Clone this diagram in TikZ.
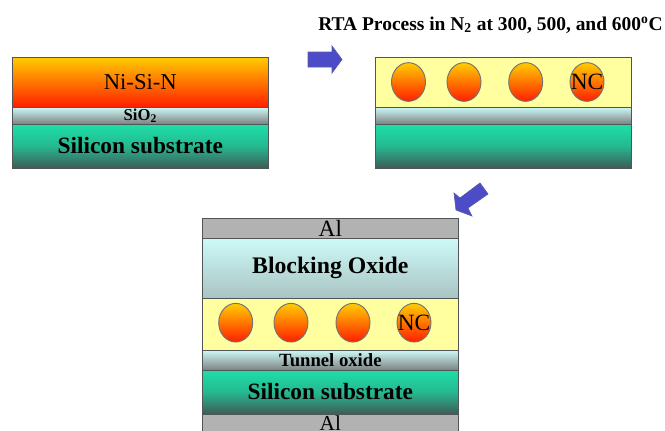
\documentclass[tikz,border=0pt]{standalone}
\usepackage{fontspec}
\setmainfont{Liberation Serif}
\usetikzlibrary{arrows.meta, positioning, shapes.geometric}
\definecolor{edgegray}{RGB}{80,85,85}
\definecolor{nigold}{RGB}{255,204,0}
\definecolor{nired}{RGB}{255,30,0}
\definecolor{oxtop}{RGB}{205,250,248}
\definecolor{oxlow}{RGB}{125,130,130}
\definecolor{sitop}{RGB}{28,224,168}
\definecolor{silow}{RGB}{62,92,88}
\definecolor{alfill}{RGB}{178,178,178}
\definecolor{ncfill}{RGB}{255,255,160}
\definecolor{arrowblue}{RGB}{76,76,200}
\tikzset{
  layer/.style={draw=edgegray, line width=0.7pt, minimum width=192.5pt, inner sep=0pt, outer sep=0pt, anchor=north west},
  nisin/.style={layer, top color=nigold, bottom color=nired},
  oxide/.style={layer, top color=oxtop, bottom color=oxlow},
  silicon/.style={layer, top color=sitop, bottom color=silow, middle color=sitop!70!silow},
  metal/.style={layer, fill=alfill},
  ncbed/.style={layer, fill=ncfill},
  crystal/.style={ellipse, draw=gray!90!black, line width=0.7pt, minimum width=25.5pt, minimum height=29pt, inner sep=0pt, top color=nigold, bottom color=nired},
  flow/.style={draw=gray!70!blue, line width=0.5pt, fill=arrowblue},
  bigtext/.style={font=\fontsize{17.5}{17.5}\selectfont}
}
\begin{document}
\begin{tikzpicture}[x=0.75pt, y=-0.75pt]
  \useasboundingbox (0,0) rectangle (665,430);

  % As-deposited stack
  \node[nisin, minimum height=37.5pt, font=\fontsize{17}{17}\selectfont] (film) at (12,57) {Ni-Si-N};
  \node[oxide, minimum height=12.75pt, font=\fontsize{12.5}{12.5}\selectfont\bfseries] (oxA) at (12,107) {SiO\textsubscript{2}};
  \node[silicon, minimum height=33pt, font=\fontsize{17.5}{17.5}\selectfont\bfseries] (subA) at (12,124) {Silicon substrate};

  % Title and process arrow
  \node[font=\fontsize{14.6}{14.6}\selectfont\bfseries, anchor=base west, inner sep=0pt] (rta) at (318,30) {RTA Process in N\textsubscript{2} at 300, 500, and 600\textsuperscript{o}C};
  \draw[flow] (308,52) -- (332,52) -- (332,46) -- (342,59.5) -- (332,73) -- (332,67) -- (308,67) -- cycle;

  % Annealed stack
  \node[ncbed, minimum height=37.5pt] (bedB) at (375,57) {};
  \node[oxide, minimum height=12.75pt] (oxB) at (375,107) {};
  \node[silicon, minimum height=33pt] (subB) at (375,124) {};
  \foreach \x/\lab in {408.5/, 464/, 525.7/, 587/NC} {
    \node[crystal, label={[bigtext, inner sep=0pt]center:\lab}] at (\x,82) {};
  }

  % Second arrow
  \draw[flow] (480,183) -- (488,194) -- (468,208) -- (472,216) -- (456,210) -- (454,193) -- (460,198) -- cycle;

  % Finished device
  \node[metal, minimum height=15pt, bigtext] (alTop) at (202,218) {Al};
  \node[oxide, minimum height=45pt, top color=oxtop, bottom color=oxtop!55!oxlow, font=\fontsize{17.8}{17.8}\selectfont\bfseries] (block) at (202,238) {Blocking Oxide};
  \node[ncbed, minimum height=39pt] (bedC) at (202,298) {};
  \node[oxide, minimum height=15pt, font=\fontsize{14}{14}\selectfont\bfseries] (tunnel) at (202,350) {Tunnel oxide};
  \node[silicon, minimum height=33pt, font=\fontsize{17.5}{17.5}\selectfont\bfseries] (subC) at (202,370) {Silicon substrate};
  \node[metal, minimum height=13pt, font=\fontsize{16}{16}\selectfont] (alLow) at (202,414) {Al};
  \foreach \x/\lab in {235.7/, 291/, 353/, 414/NC} {
    \node[crystal, label={[bigtext, inner sep=0pt]center:\lab}] at (\x,322.7) {};
  }
\end{tikzpicture}
\end{document}
